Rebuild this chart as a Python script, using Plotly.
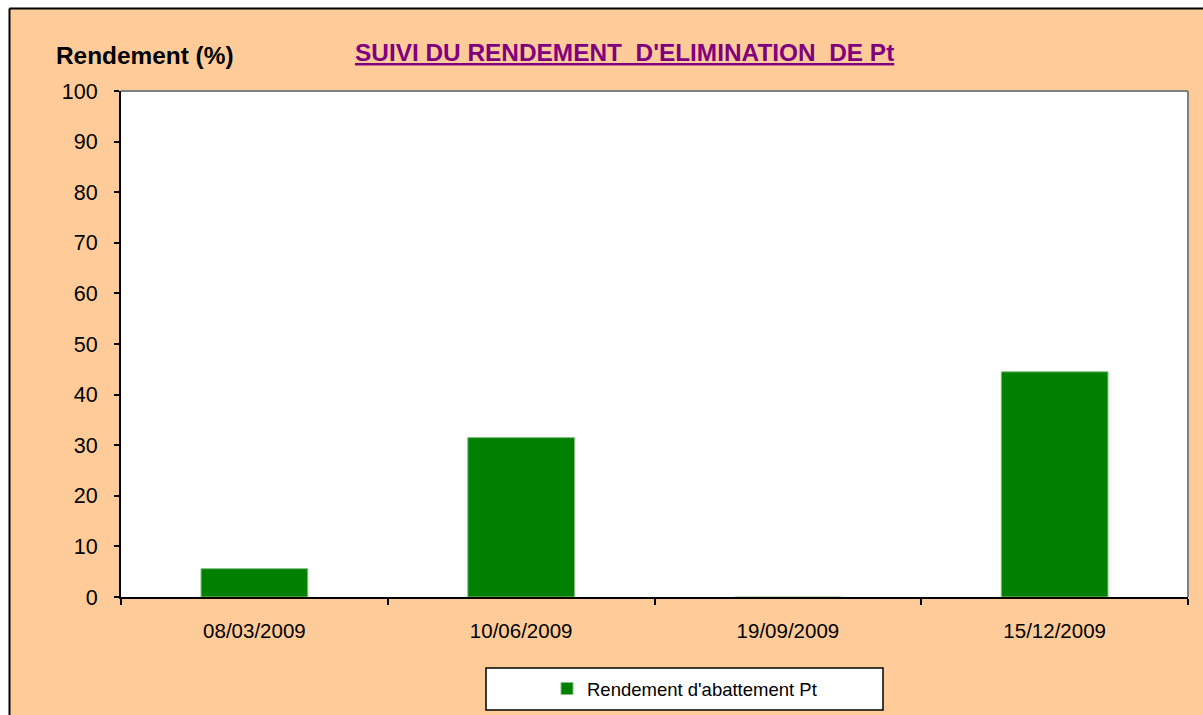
import plotly.graph_objects as go

# Données
dates = ["08/03/2009", "10/06/2009", "19/09/2009", "15/12/2009"]
rendement_pt = [5.6, 31.5, -0.3, 44.5]
y_ticks = list(range(0, 101, 10))

W, H = 1203, 715
L, R, T, B = 121, 15, 91, 118
pw, ph = W - L - R, H - T - B


def px(x):
    # pixel horizontal -> coordonnée paper
    return (x - L) / pw


def py(y):
    # pixel vertical -> coordonnée paper
    return (H - B - y) / ph


FONT = "Arial, Liberation Sans, sans-serif"
ORANGE = "#FFCC99"

fig = go.Figure()

fig.add_trace(go.Bar(
    x=dates,
    y=rendement_pt,
    name="Rendement d'abattement Pt",
    marker=dict(color="#008000", line=dict(color="#7FBF7F", width=1)),
))

shapes = [
    # bandes blanches hors du cadre + bordure noire
    dict(type="rect", xref="paper", yref="paper", x0=px(-20), x1=px(9), y0=py(H + 40), y1=py(-20),
         fillcolor="white", line=dict(width=0), layer="above"),
    dict(type="rect", xref="paper", yref="paper", x0=px(-20), x1=px(W + 40), y0=py(8), y1=py(-20),
         fillcolor="white", line=dict(width=0), layer="above"),
    dict(type="line", xref="paper", yref="paper", x0=px(9.5), x1=px(9.5), y0=py(H + 40), y1=py(8.5),
         line=dict(color="black", width=2), layer="above"),
    dict(type="line", xref="paper", yref="paper", x0=px(9.5), x1=px(W + 40), y0=py(8.5), y1=py(8.5),
         line=dict(color="black", width=2), layer="above"),
    # bords haut et droit de la zone de tracé (gris)
    dict(type="line", xref="paper", yref="paper", x0=0, x1=1, y0=1, y1=1,
         line=dict(color="#808080", width=2), layer="above"),
    dict(type="line", xref="paper", yref="paper", x0=1, x1=1, y0=0, y1=1,
         line=dict(color="#808080", width=2), layer="above"),
    # cadre de la légende
    dict(type="rect", xref="paper", yref="paper", x0=px(486), x1=px(883), y0=py(710), y1=py(668),
         fillcolor="white", line=dict(color="black", width=1.5), layer="below"),
]

fig.update_layout(
    width=W,
    height=H,
    margin=dict(l=L, r=R, t=T, b=B, pad=0, autoexpand=False),
    paper_bgcolor=ORANGE,
    plot_bgcolor="white",
    font=dict(family=FONT, color="black"),
    bargap=0.6,
    showlegend=True,
    legend=dict(
        xref="container", yref="container",
        x=547 / W, y=1 - 689 / H, xanchor="left", yanchor="middle",
        orientation="h", bgcolor="rgba(0,0,0,0)", borderwidth=0,
        font=dict(family=FONT, size=18.5, color="black"),
    ),
    shapes=shapes,
    annotations=[
        dict(text="<b><u>SUIVI DU RENDEMENT  D'ELIMINATION  DE Pt</u></b>",
             xref="paper", yref="paper", x=px(624), y=py(52), xanchor="center", yanchor="middle",
             showarrow=False, font=dict(family=FONT, size=24.4, color="#800080")),
        dict(text="<b>Rendement (%)</b>",
             xref="paper", yref="paper", x=px(54), y=py(56), xanchor="left", yanchor="middle",
             showarrow=False, font=dict(family=FONT, size=24.4, color="black")),
    ],
)

fig.update_xaxes(
    type="category",
    showline=True, linecolor="black", linewidth=2,
    ticks="outside", tickson="boundaries", ticklen=6, tickcolor="black", tickwidth=1.5,
    tickfont=dict(family=FONT, size=20.5, color="black"),
    ticklabelstandoff=14,
    showgrid=False, zeroline=False,
)

fig.update_yaxes(
    range=[0, 100],
    tickvals=y_ticks,
    showline=True, linecolor="black", linewidth=2,
    ticks="outside", ticklen=5, tickcolor="black", tickwidth=1.5,
    tickfont=dict(family=FONT, size=21.5, color="black"),
    ticklabelstandoff=12,
    showgrid=False, zeroline=False,
)

# la figure occupe toute la fenêtre, sans la marge par défaut de la page
fig.write_html(
    "out.html",
    config={"displayModeBar": False},
    post_script="document.body.style.margin='0';document.body.style.overflow='hidden';",
)
